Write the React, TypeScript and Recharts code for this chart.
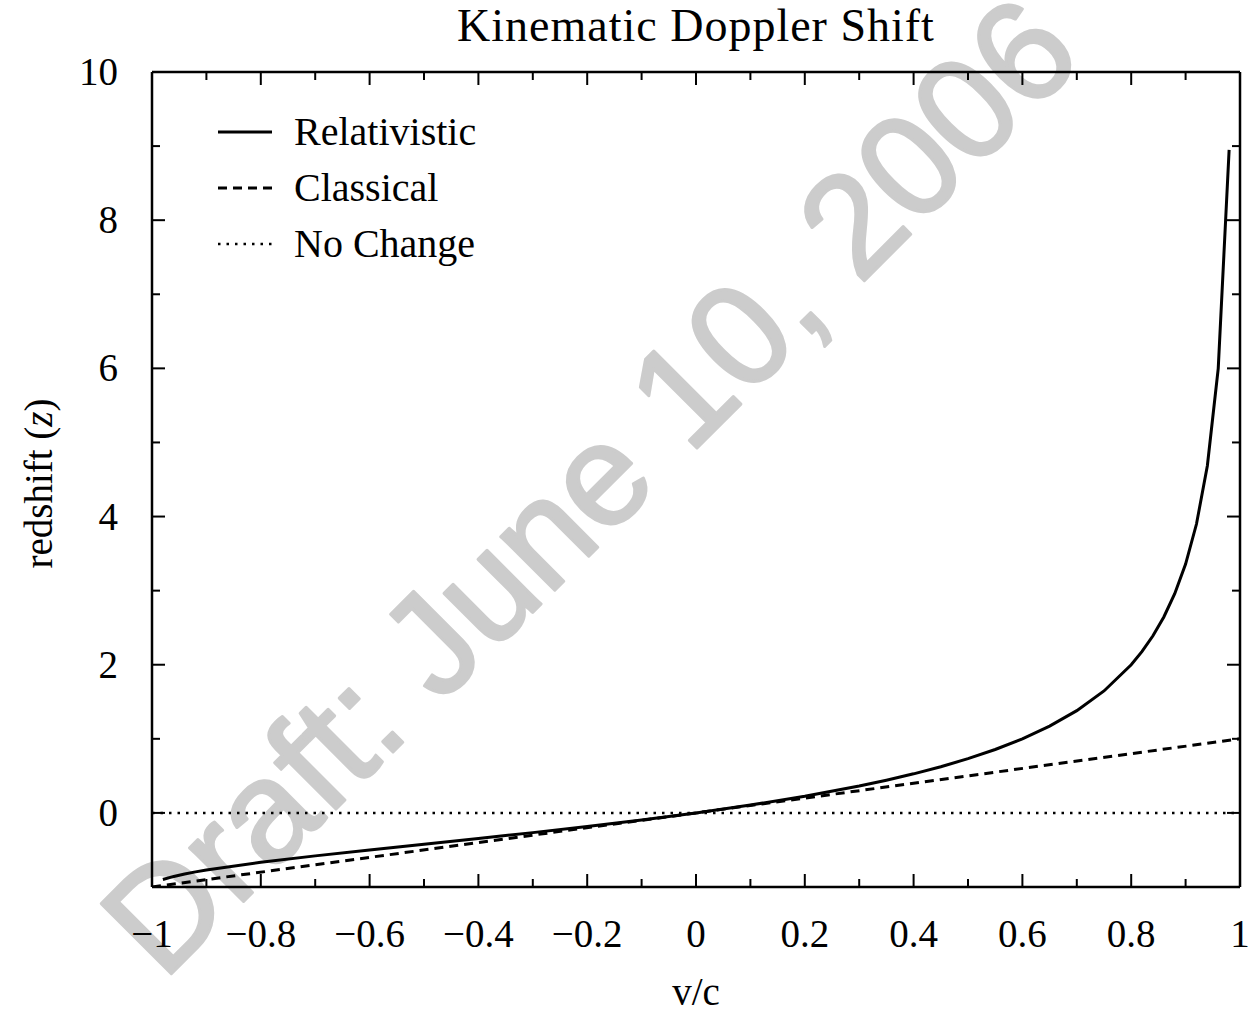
import React from 'react';
import { LineChart, Line, XAxis, YAxis, Legend, Label } from 'recharts';

// ---- data ----
const relativisticBeta = [-0.98, -0.96, -0.94, -0.92, -0.9, -0.8, -0.7, -0.6, -0.5, -0.4, -0.3, -0.2, -0.1, 0, 0.1, 0.2, 0.3, 0.35, 0.4, 0.45, 0.5, 0.55, 0.6, 0.65, 0.7, 0.75, 0.8, 0.82, 0.84, 0.86, 0.88, 0.9, 0.92, 0.94, 0.96, 0.98];
const relativisticZ = [-0.8995, -0.8571, -0.8241, -0.7959, -0.7706, -0.6667, -0.5799, -0.5, -0.4226, -0.3453, -0.2662, -0.1835, -0.0955, 0, 0.1055, 0.2247, 0.3628, 0.4412, 0.5275, 0.6237, 0.7321, 0.8559, 1.0, 1.1712, 1.3805, 1.6458, 2.0, 2.1798, 2.3912, 2.645, 2.9581, 3.3589, 3.899, 4.6862, 6.0, 8.9499];
const classicalBeta = [-1, 1];
const classicalZ = [-1, 1];
const noChangeBeta = [-1, 1];
const noChangeZ = [0, 0];

const xMajorTicks = [-1, -0.8, -0.6, -0.4, -0.2, 0, 0.2, 0.4, 0.6, 0.8, 1];
const xMinorTicks = [-0.9, -0.7, -0.5, -0.3, -0.1, 0.1, 0.3, 0.5, 0.7, 0.9];
const xTickLabels = ['\u22121', '\u22120.8', '\u22120.6', '\u22120.4', '\u22120.2', '0', '0.2', '0.4', '0.6', '0.8', '1'];
const yMajorTicks = [0, 2, 4, 6, 8, 10];
const yMinorTicks = [1, 3, 5, 7, 9];
const yTickLabels = ['0', '2', '4', '6', '8', '10'];

const titleText = 'Kinematic Doppler Shift';
const xLabelText = 'v/c';
const watermarkText = 'Draft: June 10, 2006';

const seriesNames = ['Relativistic', 'Classical', 'No Change'];
const seriesDash: Record<string, string | undefined> = {
  Relativistic: undefined,
  Classical: '9 6',
  'No Change': '2.5 6',
};

// ---- derived tables ----
const relData = relativisticBeta.map((b, i) => ({ v: b, z: relativisticZ[i] }));
const classicalData = classicalBeta.map((b, i) => ({ v: b, z: classicalZ[i] }));
const noChangeData = noChangeBeta.map((b, i) => ({ v: b, z: noChangeZ[i] }));

const xAllTicks = [...xMajorTicks, ...xMinorTicks].sort((a, b) => a - b);
const yAllTicks = [...yMajorTicks, ...yMinorTicks].sort((a, b) => a - b);

const SERIF = "'Liberation Serif', 'Times New Roman', serif";
const FS = 39;

const findIdx = (arr: number[], v: number) => arr.findIndex((t) => Math.abs(t - v) < 1e-9);

const makeXTick = (dir: number, showLabel: boolean) => (props: any) => {
  const { x, y, payload } = props;
  const idx = findIdx(xMajorTicks, payload.value);
  const len = idx >= 0 ? 13 : 8;
  return (
    <g>
      <line x1={x} x2={x} y1={y} y2={y + dir * len} stroke="#000" strokeWidth={2} />
      {showLabel && idx >= 0 && (
        <text x={x} y={y + 60} textAnchor="middle" fontFamily={SERIF} fontSize={FS} fill="#000">
          {xTickLabels[idx]}
        </text>
      )}
    </g>
  );
};

const makeYTick = (dir: number, showLabel: boolean) => (props: any) => {
  const { x, y, payload } = props;
  const idx = findIdx(yMajorTicks, payload.value);
  const len = idx >= 0 ? 13 : 8;
  return (
    <g>
      <line x1={x} x2={x + dir * len} y1={y} y2={y} stroke="#000" strokeWidth={2} />
      {showLabel && idx >= 0 && (
        <text x={x - 34} y={y + 13} textAnchor="end" fontFamily={SERIF} fontSize={FS} fill="#000">
          {yTickLabels[idx]}
        </text>
      )}
    </g>
  );
};

const renderLegend = () => (
  <div style={{ fontFamily: SERIF, fontSize: 40, color: '#000' }}>
    {seriesNames.map((name) => (
      <div key={name} style={{ display: 'flex', alignItems: 'center', height: 56 }}>
        <svg width={56} height={10} style={{ display: 'block' }}>
          <line x1={1} x2={55} y1={5} y2={5} stroke="#000" strokeWidth={name === 'No Change' ? 2.5 : 3} strokeDasharray={seriesDash[name]} />
        </svg>
        <span style={{ marginLeft: 21, lineHeight: '46px', whiteSpace: 'nowrap' }}>{name}</span>
      </div>
    ))}
  </div>
);

export default function App() {
  return (
    <div style={{ position: 'absolute', left: 0, top: 0, width: 1258, height: 1025, background: '#fff', overflow: 'hidden' }}>
      <svg width={1258} height={1025} style={{ position: 'absolute', left: 0, top: 0 }}>
        <text
          x={163}
          y={982}
          transform="rotate(-45 163 982)"
          fontFamily="'Liberation Sans', Arial, sans-serif"
          fontSize={144}
          fill="#cccccc"
          stroke="#cccccc"
          strokeWidth={3}
          strokeLinejoin="round"
        >
          {watermarkText}
        </text>
      </svg>
      <div style={{ position: 'absolute', left: 0, top: 0 }}>
        <LineChart width={1258} height={1025} margin={{ top: 71, right: 17, bottom: 137, left: 151 }}>
          <XAxis
            xAxisId={0}
            dataKey="v"
            type="number"
            domain={[-1, 1]}
            allowDataOverflow
            ticks={xAllTicks}
            interval={0}
            height={1}
            tickSize={0}
            tickMargin={0}
            tickLine={false}
            axisLine={{ stroke: '#000', strokeWidth: 2.5 }}
            tick={makeXTick(-1, true)}
          >
            <Label
              content={(p: any) => {
                const vb = p.viewBox || {};
                const cx = (vb.x ?? 152) + (vb.width ?? 1088) / 2;
                return (
                  <text x={cx} y={(vb.y ?? 887) + 118} textAnchor="middle" fontFamily={SERIF} fontSize={FS} fill="#000">
                    {xLabelText}
                  </text>
                );
              }}
            />
          </XAxis>
          <XAxis
            xAxisId="top"
            orientation="top"
            dataKey="v"
            type="number"
            domain={[-1, 1]}
            allowDataOverflow
            ticks={xAllTicks}
            interval={0}
            height={1}
            tickSize={0}
            tickMargin={0}
            tickLine={false}
            axisLine={{ stroke: '#000', strokeWidth: 2.5 }}
            tick={makeXTick(1, false)}
          >
            <Label
              content={(p: any) => {
                const vb = p.viewBox || {};
                const cx = (vb.x ?? 152) + (vb.width ?? 1088) / 2;
                return (
                  <text x={cx} y={(vb.y ?? 71) + (vb.height ?? 1) - 31} textAnchor="middle" fontFamily={SERIF} fontSize={46} letterSpacing={1} fill="#000">
                    {titleText}
                  </text>
                );
              }}
            />
          </XAxis>
          <YAxis
            yAxisId={0}
            type="number"
            domain={[-1, 10]}
            allowDataOverflow
            ticks={yAllTicks}
            interval={0}
            width={1}
            tickSize={0}
            tickMargin={0}
            tickLine={false}
            axisLine={{ stroke: '#000', strokeWidth: 2.5 }}
            tick={makeYTick(1, true)}
          >
            <Label
              content={(p: any) => {
                const vb = p.viewBox || {};
                const cy = (vb.y ?? 72) + (vb.height ?? 815) / 2 + 4;
                return (
                  <text transform={`translate(52 ${cy}) rotate(-90)`} x={0} y={0} textAnchor="middle" fontFamily={SERIF} fontSize={FS} fill="#000">
                    redshift (<tspan fontStyle="italic">z</tspan>)
                  </text>
                );
              }}
            />
          </YAxis>
          <YAxis
            yAxisId="right"
            orientation="right"
            type="number"
            domain={[-1, 10]}
            allowDataOverflow
            ticks={yAllTicks}
            interval={0}
            width={1}
            tickSize={0}
            tickMargin={0}
            tickLine={false}
            axisLine={{ stroke: '#000', strokeWidth: 2.5 }}
            tick={makeYTick(-1, false)}
          />
          <Legend
            layout="horizontal"
            verticalAlign="middle"
            align="center"
            content={renderLegend}
            wrapperStyle={{ left: 217, top: 104, width: 320 }}
          />
          <Line
            data={noChangeData}
            dataKey="z"
            name={seriesNames[2]}
            type="linear"
            stroke="#000"
            strokeWidth={2.5}
            strokeDasharray={seriesDash['No Change']}
            dot={false}
            activeDot={false}
            legendType="none"
            isAnimationActive={false}
          />
          <Line
            data={classicalData}
            dataKey="z"
            name={seriesNames[1]}
            type="linear"
            stroke="#000"
            strokeWidth={3}
            strokeDasharray={seriesDash['Classical']}
            dot={false}
            activeDot={false}
            isAnimationActive={false}
          />
          <Line
            data={relData}
            dataKey="z"
            name={seriesNames[0]}
            type="linear"
            stroke="#000"
            strokeWidth={3}
            dot={false}
            activeDot={false}
            isAnimationActive={false}
          />
        </LineChart>
      </div>
    </div>
  );
}
